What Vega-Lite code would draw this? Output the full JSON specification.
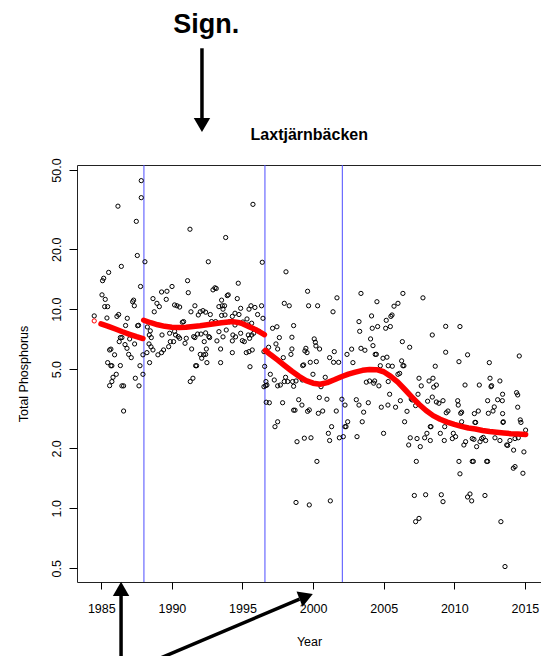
{
  "$schema": "https://vega.github.io/schema/vega-lite/v6.json",
  "width": 464,
  "height": 417,
  "autosize": {"type": "none"},
  "padding": {"left": 77, "top": 165, "right": 0, "bottom": 74},
  "background": "white",
  "config": {
    "view": {"stroke": "#222", "strokeWidth": 1},
    "font": "Liberation Sans",
    "axis": {"grid": false, "domain": false, "tickColor": "black", "labelColor": "black", "titleColor": "black", "labelFont": "Liberation Sans", "titleFont": "Liberation Sans", "labelFontSize": 12.5, "titleFontSize": 12.5, "titleFontWeight": "normal"}
  },
  "encoding": {
    "x": {"field": "x", "type": "quantitative", "scale": {"domain": [1983.28, 2016.14], "nice": false, "zero": false},
          "axis": {"title": "Year", "values": [1985, 1990, 1995, 2000, 2005, 2010, 2015], "format": "d", "tickSize": 7, "labelPadding": 23, "labelBaseline": "alphabetic", "titleBaseline": "alphabetic", "titleY": 63.5}}
  },
  "datasets": {
    "pts": [
      {"x":1984.50,"y":9.25},{"x":1987.83,"y":44.2},{"x":1987.83,"y":36.3},{"x":1986.18,"y":32.9},{"x":1987.48,"y":27.6},{"x":1987.55,"y":18.6},{"x":1988.09,"y":17.3},{"x":1986.42,"y":16.4},{"x":1985.52,"y":15.3},{"x":1985.17,"y":14.3},{"x":1985.09,"y":13.9},{"x":1987.78,"y":13.0},{"x":1985.05,"y":11.8},{"x":1985.28,"y":11.2},{"x":1985.24,"y":10.3},{"x":1985.45,"y":10.3},{"x":1987.29,"y":11.1},{"x":1987.22,"y":10.9},{"x":1987.34,"y":10.4},{"x":1989.27,"y":12.2},{"x":1989.65,"y":12.3},{"x":1990.01,"y":13.0},{"x":1989.60,"y":11.2},{"x":1988.66,"y":11.3},{"x":1988.94,"y":10.7},{"x":1989.11,"y":10.3},{"x":1988.75,"y":9.7},{"x":1985.40,"y":9.03},{"x":1986.23,"y":9.4},{"x":1986.11,"y":9.2},{"x":1986.84,"y":9.0},{"x":1986.72,"y":8.28},{"x":1987.64,"y":8.3},{"x":1987.57,"y":8.26},{"x":1988.26,"y":8.14},{"x":1988.47,"y":7.78},{"x":1988.40,"y":7.42},{"x":1988.54,"y":7.2},{"x":1989.30,"y":7.42},{"x":1989.84,"y":7.57},{"x":1990.19,"y":10.5},{"x":1990.19,"y":7.74},{"x":1986.35,"y":7.2},{"x":1986.46,"y":7.2},{"x":1987.01,"y":7.09},{"x":1987.36,"y":6.69},{"x":1986.27,"y":6.87},{"x":1986.68,"y":6.64},{"x":1986.82,"y":6.36},{"x":1988.38,"y":6.69},{"x":1988.52,"y":6.47},{"x":1988.66,"y":6.24},{"x":1989.89,"y":6.87},{"x":1989.77,"y":6.48},{"x":1989.41,"y":6.24},{"x":1989.27,"y":6.05},{"x":1989.01,"y":5.9},{"x":1988.23,"y":6.05},{"x":1987.95,"y":5.9},{"x":1985.59,"y":6.24},{"x":1985.68,"y":6.3},{"x":1985.94,"y":5.9},{"x":1986.94,"y":5.93},{"x":1987.12,"y":5.71},{"x":1985.45,"y":5.39},{"x":1985.68,"y":5.2},{"x":1985.75,"y":5.2},{"x":1986.35,"y":5.21},{"x":1988.42,"y":5.39},{"x":1987.74,"y":5.2},{"x":1986.06,"y":4.71},{"x":1985.83,"y":4.55},{"x":1987.41,"y":4.50},{"x":1987.95,"y":4.71},{"x":1985.75,"y":4.33},{"x":1985.59,"y":4.13},{"x":1986.46,"y":4.12},{"x":1986.58,"y":4.12},{"x":1987.67,"y":4.12},{"x":1986.58,"y":3.08},
      {"x":1995.74,"y":33.6},{"x":1991.28,"y":25.2},{"x":1993.81,"y":22.9},{"x":1992.58,"y":17.3},{"x":1996.40,"y":17.2},{"x":1991.11,"y":13.9},{"x":1991.16,"y":12.1},{"x":1994.70,"y":13.5},{"x":1993.05,"y":12.8},{"x":1992.91,"y":12.5},{"x":1993.14,"y":12.7},{"x":1993.99,"y":11.8},{"x":1993.92,"y":11.7},{"x":1993.52,"y":11.1},{"x":1994.63,"y":11.3},{"x":1990.36,"y":10.4},{"x":1990.55,"y":10.25},{"x":1991.63,"y":10.4},{"x":1991.35,"y":9.7},{"x":1992.01,"y":9.7},{"x":1992.20,"y":9.83},{"x":1992.39,"y":9.66},{"x":1991.87,"y":9.35},{"x":1992.72,"y":9.4},{"x":1993.33,"y":10.3},{"x":1993.57,"y":10.4},{"x":1993.73,"y":10.4},{"x":1993.62,"y":10.0},{"x":1994.87,"y":10.1},{"x":1995.60,"y":10.4},{"x":1995.88,"y":10.2},{"x":1996.35,"y":10.4},{"x":1995.46,"y":10.0},{"x":1996.07,"y":9.4},{"x":1996.45,"y":9.0},{"x":1995.32,"y":8.93},{"x":1993.52,"y":9.3},{"x":1993.76,"y":9.35},{"x":1994.28,"y":9.2},{"x":1994.47,"y":9.54},{"x":1994.75,"y":9.4},{"x":1990.83,"y":8.66},{"x":1990.74,"y":8.6},{"x":1992.81,"y":8.66},{"x":1993.10,"y":8.66},{"x":1994.09,"y":8.66},{"x":1995.03,"y":8.62},{"x":1995.65,"y":8.5},{"x":1995.41,"y":8.33},{"x":1994.47,"y":8.33},{"x":1993.85,"y":7.86},{"x":1993.33,"y":7.71},{"x":1992.39,"y":7.6},{"x":1992.06,"y":7.5},{"x":1992.62,"y":7.28},{"x":1992.67,"y":7.2},{"x":1993.62,"y":7.26},{"x":1994.32,"y":7.42},{"x":1994.51,"y":7.26},{"x":1994.87,"y":7.57},{"x":1995.41,"y":7.42},{"x":1995.65,"y":7.42},{"x":1996.17,"y":7.74},{"x":1990.26,"y":7.42},{"x":1990.45,"y":7.28},{"x":1990.55,"y":7.14},{"x":1991.02,"y":7.14},{"x":1991.54,"y":7.28},{"x":1991.63,"y":7.2},{"x":1991.82,"y":7.5},{"x":1992.29,"y":6.87},{"x":1993.19,"y":6.93},{"x":1994.28,"y":6.93},{"x":1994.99,"y":6.95},{"x":1995.13,"y":6.87},{"x":1995.50,"y":7.14},{"x":1995.79,"y":7.57},{"x":1990.12,"y":6.87},{"x":1990.93,"y":6.74},{"x":1991.40,"y":6.31},{"x":1992.01,"y":5.93},{"x":1992.25,"y":5.9},{"x":1992.44,"y":6.31},{"x":1992.39,"y":5.93},{"x":1992.11,"y":5.67},{"x":1992.48,"y":5.39},{"x":1993.45,"y":6.31},{"x":1994.28,"y":6.05},{"x":1995.27,"y":6.05},{"x":1995.46,"y":6.12},{"x":1995.69,"y":6.24},{"x":1991.68,"y":5.2},{"x":1991.75,"y":5.2},{"x":1993.45,"y":5.39},{"x":1995.53,"y":5.14},{"x":1991.49,"y":4.50},{"x":1991.30,"y":4.33},{"x":1996.52,"y":6.12},{"x":1996.57,"y":5.16},{"x":1996.52,"y":4.08},{"x":1996.64,"y":4.13},{"x":1996.68,"y":3.41},
      {"x":1998.08,"y":15.4},{"x":1999.61,"y":12.3},{"x":2001.69,"y":11.4},{"x":1997.96,"y":10.7},{"x":1998.31,"y":10.4},{"x":1999.68,"y":10.4},{"x":2000.32,"y":10.4},{"x":2001.41,"y":9.7},{"x":1997.13,"y":8.02},{"x":1997.44,"y":8.16},{"x":1998.62,"y":8.27},{"x":1997.61,"y":7.2},{"x":1998.50,"y":7.23},{"x":1997.37,"y":6.69},{"x":1997.49,"y":6.31},{"x":1996.85,"y":6.44},{"x":1997.89,"y":5.71},{"x":1998.43,"y":5.93},{"x":1998.50,"y":6.31},{"x":2000.08,"y":7.09},{"x":2000.16,"y":6.82},{"x":2000.20,"y":6.54},{"x":2000.46,"y":6.31},{"x":1999.49,"y":6.36},{"x":1999.42,"y":6.17},{"x":1999.57,"y":6.05},{"x":2001.50,"y":6.12},{"x":2001.17,"y":5.71},{"x":2001.45,"y":5.41},{"x":2001.81,"y":5.41},{"x":2002.40,"y":5.93},{"x":2002.73,"y":6.3},{"x":2002.82,"y":5.39},{"x":1999.80,"y":5.41},{"x":2000.23,"y":5.45},{"x":1999.33,"y":5.25},{"x":1999.26,"y":5.21},{"x":1999.99,"y":4.71},{"x":2000.86,"y":4.55},{"x":1999.24,"y":4.41},{"x":1996.97,"y":4.71},{"x":1997.25,"y":4.41},{"x":1996.66,"y":4.33},{"x":1996.73,"y":4.16},{"x":1997.49,"y":4.12},{"x":1997.68,"y":4.16},{"x":1997.96,"y":4.33},{"x":1998.20,"y":4.33},{"x":1998.55,"y":4.33},{"x":1998.79,"y":4.36},{"x":1998.05,"y":4.55},{"x":1998.62,"y":4.1},{"x":2000.56,"y":4.08},{"x":2000.44,"y":3.60},{"x":2000.98,"y":3.53},{"x":1998.98,"y":3.51},{"x":1999.21,"y":3.30},{"x":1998.62,"y":3.11},{"x":1998.72,"y":3.11},{"x":1999.61,"y":3.07},{"x":1999.73,"y":3.12},{"x":2000.68,"y":3.08},{"x":2000.37,"y":3.0},{"x":2001.64,"y":3.08},{"x":2002.04,"y":3.53},{"x":2002.26,"y":3.30},{"x":2002.45,"y":2.72},{"x":2002.33,"y":2.57},{"x":2002.26,"y":2.57},{"x":2001.31,"y":2.57},{"x":2001.08,"y":2.38},{"x":2001.17,"y":2.19},{"x":2001.86,"y":2.26},{"x":2002.14,"y":2.29},{"x":2003.11,"y":2.29},{"x":2003.25,"y":3.30},{"x":1997.49,"y":2.72},{"x":1997.30,"y":2.57},{"x":1998.86,"y":2.16},{"x":1999.38,"y":2.25},{"x":1999.85,"y":2.26},{"x":2000.27,"y":1.72},{"x":1998.79,"y":1.07},{"x":1999.73,"y":1.04},{"x":2001.22,"y":1.09},{"x":1996.90,"y":3.39},{"x":1997.84,"y":3.39},
      {"x":2003.39,"y":12.0},{"x":2004.52,"y":10.9},{"x":2006.36,"y":12.0},{"x":2006.01,"y":10.7},{"x":2005.73,"y":10.35},{"x":2007.78,"y":11.4},{"x":2004.14,"y":9.25},{"x":2003.25,"y":8.66},{"x":2003.30,"y":7.74},{"x":2004.19,"y":8.02},{"x":2004.57,"y":8.18},{"x":2005.18,"y":8.79},{"x":2005.51,"y":9.2},{"x":2005.59,"y":9.35},{"x":2005.14,"y":8.02},{"x":2005.47,"y":8.18},{"x":2009.39,"y":8.2},{"x":2008.44,"y":7.42},{"x":2004.07,"y":7.09},{"x":2004.24,"y":6.56},{"x":2003.39,"y":6.36},{"x":2003.67,"y":6.22},{"x":2006.32,"y":6.87},{"x":2006.84,"y":6.44},{"x":2009.39,"y":6.08},{"x":2004.40,"y":5.93},{"x":2004.48,"y":5.93},{"x":2004.95,"y":5.67},{"x":2005.23,"y":5.74},{"x":2004.76,"y":5.2},{"x":2005.32,"y":5.2},{"x":2005.61,"y":5.17},{"x":2006.27,"y":5.5},{"x":2006.36,"y":5.2},{"x":2006.43,"y":5.2},{"x":2008.65,"y":5.17},{"x":2006.01,"y":4.71},{"x":2006.13,"y":4.76},{"x":2003.77,"y":4.3},{"x":2004.00,"y":4.36},{"x":2004.36,"y":4.36},{"x":2004.29,"y":4.25},{"x":2004.66,"y":4.12},{"x":2005.32,"y":4.33},{"x":2007.50,"y":4.50},{"x":2007.66,"y":4.12},{"x":2008.21,"y":4.36},{"x":2008.49,"y":4.50},{"x":2008.73,"y":4.16},{"x":2008.54,"y":4.06},{"x":2003.06,"y":3.51},{"x":2003.58,"y":3.04},{"x":2003.48,"y":2.72},{"x":2003.91,"y":3.39},{"x":2004.83,"y":3.22},{"x":2005.30,"y":3.30},{"x":2005.42,"y":3.74},{"x":2005.84,"y":3.22},{"x":2006.18,"y":3.47},{"x":2006.65,"y":3.07},{"x":2006.48,"y":2.72},{"x":2006.95,"y":3.54},{"x":2007.02,"y":3.50},{"x":2007.43,"y":3.74},{"x":2007.26,"y":3.28},{"x":2008.11,"y":3.45},{"x":2008.44,"y":3.62},{"x":2008.73,"y":3.42},{"x":2008.91,"y":3.37},{"x":2009.20,"y":3.47},{"x":2009.43,"y":3.02},{"x":2009.55,"y":3.08},{"x":2008.30,"y":2.57},{"x":2008.35,"y":2.57},{"x":2008.06,"y":2.38},{"x":2007.90,"y":2.26},{"x":2007.36,"y":2.24},{"x":2006.88,"y":2.26},{"x":2006.77,"y":2.08},{"x":2007.59,"y":2.04},{"x":2008.30,"y":2.19},{"x":2009.01,"y":2.38},{"x":2009.29,"y":2.19},{"x":2009.32,"y":2.57},{"x":2004.99,"y":2.38},{"x":2007.31,"y":1.72},{"x":2007.17,"y":1.16},{"x":2007.97,"y":1.17},{"x":2009.08,"y":1.17},{"x":2009.20,"y":1.08},{"x":2007.26,"y":0.857},{"x":2007.50,"y":0.89},
      {"x":2010.40,"y":8.18},{"x":2010.94,"y":5.9},{"x":2010.33,"y":5.45},{"x":2012.48,"y":5.39},{"x":2014.60,"y":5.82},{"x":2012.53,"y":4.50},{"x":2012.60,"y":4.08},{"x":2012.64,"y":4.13},{"x":2013.23,"y":4.36},{"x":2010.76,"y":4.16},{"x":2011.77,"y":4.16},{"x":2013.42,"y":3.74},{"x":2013.40,"y":3.47},{"x":2013.07,"y":3.51},{"x":2014.41,"y":3.81},{"x":2014.49,"y":3.71},{"x":2014.49,"y":3.22},{"x":2012.36,"y":3.47},{"x":2012.83,"y":3.23},{"x":2012.74,"y":3.08},{"x":2012.41,"y":3.0},{"x":2010.24,"y":3.47},{"x":2010.28,"y":3.30},{"x":2010.52,"y":3.04},{"x":2010.45,"y":3.0},{"x":2011.42,"y":2.99},{"x":2011.70,"y":3.08},{"x":2013.42,"y":2.99},{"x":2014.67,"y":2.78},{"x":2014.72,"y":2.70},{"x":2015.05,"y":2.47},{"x":2010.52,"y":2.72},{"x":2011.46,"y":2.70},{"x":2011.51,"y":2.70},{"x":2013.45,"y":2.70},{"x":2013.47,"y":2.72},{"x":2009.93,"y":2.38},{"x":2010.09,"y":2.29},{"x":2009.86,"y":2.24},{"x":2010.68,"y":2.08},{"x":2010.80,"y":2.16},{"x":2011.27,"y":2.24},{"x":2011.39,"y":2.22},{"x":2011.58,"y":2.04},{"x":2011.82,"y":2.16},{"x":2011.94,"y":2.24},{"x":2012.05,"y":2.27},{"x":2012.22,"y":2.19},{"x":2012.88,"y":2.26},{"x":2013.23,"y":2.19},{"x":2013.71,"y":2.08},{"x":2013.94,"y":2.19},{"x":2013.78,"y":2.07},{"x":2014.20,"y":1.96},{"x":2014.30,"y":2.24},{"x":2014.53,"y":2.26},{"x":2014.93,"y":1.92},{"x":2010.33,"y":1.72},{"x":2011.27,"y":1.72},{"x":2011.35,"y":1.72},{"x":2012.29,"y":1.72},{"x":2012.36,"y":1.72},{"x":2010.40,"y":1.49},{"x":2014.18,"y":1.59},{"x":2014.30,"y":1.62},{"x":2014.86,"y":1.50},{"x":2010.94,"y":1.14},{"x":2011.11,"y":1.18},{"x":2011.23,"y":1.09},{"x":2012.17,"y":1.16},{"x":2013.30,"y":0.857},{"x":2013.59,"y":0.51}
    ],
    "fit": [
      {"s":"a","x":1984.98,"y":8.43},{"s":"a","x":1985.5,"y":8.2},{"s":"a","x":1986.0,"y":7.95},{"s":"a","x":1986.5,"y":7.7},{"s":"a","x":1987.0,"y":7.48},{"s":"a","x":1987.5,"y":7.28},{"s":"a","x":1987.95,"y":7.12},
      {"s":"b","x":1988.0,"y":8.8},{"s":"b","x":1988.5,"y":8.55},{"s":"b","x":1989.0,"y":8.35},{"s":"b","x":1989.5,"y":8.2},{"s":"b","x":1990.0,"y":8.12},{"s":"b","x":1990.5,"y":8.1},{"s":"b","x":1991.0,"y":8.12},{"s":"b","x":1991.5,"y":8.18},{"s":"b","x":1992.0,"y":8.25},{"s":"b","x":1992.5,"y":8.35},{"s":"b","x":1993.0,"y":8.45},{"s":"b","x":1993.5,"y":8.55},{"s":"b","x":1994.0,"y":8.63},{"s":"b","x":1994.3,"y":8.66},{"s":"b","x":1994.7,"y":8.58},{"s":"b","x":1995.0,"y":8.45},{"s":"b","x":1995.5,"y":8.15},{"s":"b","x":1996.0,"y":7.85},{"s":"b","x":1996.55,"y":7.45},
      {"s":"c","x":1996.62,"y":6.2},{"s":"c","x":1997.0,"y":5.9},{"s":"c","x":1997.5,"y":5.55},{"s":"c","x":1998.0,"y":5.2},{"s":"c","x":1998.5,"y":4.88},{"s":"c","x":1999.0,"y":4.6},{"s":"c","x":1999.5,"y":4.38},{"s":"c","x":2000.0,"y":4.25},{"s":"c","x":2000.5,"y":4.2},{"s":"c","x":2001.0,"y":4.28},{"s":"c","x":2001.5,"y":4.42},{"s":"c","x":2002.0,"y":4.58},{"s":"c","x":2002.5,"y":4.72},{"s":"c","x":2003.0,"y":4.83},{"s":"c","x":2003.5,"y":4.93},{"s":"c","x":2004.0,"y":4.98},{"s":"c","x":2004.5,"y":4.97},{"s":"c","x":2005.0,"y":4.85},{"s":"c","x":2005.5,"y":4.6},{"s":"c","x":2006.0,"y":4.3},{"s":"c","x":2006.5,"y":3.95},{"s":"c","x":2007.0,"y":3.62},{"s":"c","x":2007.5,"y":3.33},{"s":"c","x":2008.0,"y":3.1},{"s":"c","x":2008.5,"y":2.92},{"s":"c","x":2009.0,"y":2.8},{"s":"c","x":2009.5,"y":2.71},{"s":"c","x":2010.0,"y":2.64},{"s":"c","x":2010.5,"y":2.58},{"s":"c","x":2011.0,"y":2.53},{"s":"c","x":2011.5,"y":2.5},{"s":"c","x":2012.0,"y":2.46},{"s":"c","x":2012.5,"y":2.43},{"s":"c","x":2013.0,"y":2.41},{"s":"c","x":2013.5,"y":2.39},{"s":"c","x":2014.0,"y":2.37},{"s":"c","x":2014.5,"y":2.36},{"s":"c","x":2015.05,"y":2.35}
    ],
    "breaks": [{"x":1988.02},{"x":1996.59},{"x":2002.07}],
    "shafts": [
      {"x":1992.13,"y":204.2,"x2":1992.13,"y2":88.5},
      {"x":1986.40,"y":0.17,"x2":1986.40,"y2":0.38},
      {"x":1988.60,"y":0.17,"x2":1999.04,"y2":0.350}
    ],
    "heads": [
      {"x":1992.13,"y":84.1,"a":180},
      {"x":1986.40,"y":0.3936,"a":0},
      {"x":1999.51,"y":0.3608,"a":68.5}
    ],
    "notes": [
      {"x":1992.44,"y":243.8,"label":"Sign.","k":"sign"},
      {"x":1999.73,"y":70.7,"label":"Laxtjärnbäcken","k":"title"}
    ]
  },
  "layer": [
    {
      "data": {"name": "breaks"},
      "mark": {"type": "rule", "color": "#4d4dff", "strokeWidth": 1}
    },
    {
      "data": {"name": "pts"},
      "mark": {"type": "point", "shape": "circle", "filled": false, "stroke": "black", "strokeWidth": 1, "size": 18, "opacity": 1},
      "encoding": {
        "y": {"field": "y", "type": "quantitative", "scale": {"type": "log", "domain": [0.4266, 52.96], "nice": false},
              "axis": {"title": "Total Phosphorus", "values": [0.5, 1, 2, 5, 10, 20, 50], "format": ".1f", "tickSize": 8, "labelPadding": 9, "labelAngle": -90, "labelAlign": "center", "labelBaseline": "alphabetic", "titleAngle": -90, "titleBaseline": "alphabetic", "titleAlign": "center", "titleX": -50}}
      }
    },
    {
      "data": {"name": "fit"},
      "mark": {"type": "line", "color": "red", "strokeWidth": 5.5, "strokeCap": "round", "strokeJoin": "round"},
      "encoding": {
        "y": {"field": "y", "type": "quantitative", "scale": {"type": "log", "domain": [0.4266, 52.96], "nice": false},
              "axis": {"title": "Total Phosphorus", "values": [0.5, 1, 2, 5, 10, 20, 50], "format": ".1f", "tickSize": 8, "labelPadding": 9, "labelAngle": -90, "labelAlign": "center", "labelBaseline": "alphabetic", "titleAngle": -90, "titleBaseline": "alphabetic", "titleAlign": "center", "titleX": -50}},
        "detail": {"field": "s"}
      }
    },
    {
      "data": {"values": [{"x": 1984.5, "y": 8.73}]},
      "mark": {"type": "point", "shape": "circle", "filled": false, "stroke": "red", "strokeWidth": 1, "size": 18, "opacity": 1},
      "encoding": {
        "y": {"field": "y", "type": "quantitative", "scale": {"type": "log", "domain": [0.4266, 52.96], "nice": false},
              "axis": {"title": "Total Phosphorus", "values": [0.5, 1, 2, 5, 10, 20, 50], "format": ".1f", "tickSize": 8, "labelPadding": 9, "labelAngle": -90, "labelAlign": "center", "labelBaseline": "alphabetic", "titleAngle": -90, "titleBaseline": "alphabetic", "titleAlign": "center", "titleX": -50}}
      }
    },
    {
      "data": {"name": "shafts"},
      "mark": {"type": "rule", "color": "black", "strokeWidth": 3.5, "clip": false},
      "encoding": {
        "y": {"field": "y", "type": "quantitative", "scale": {"type": "log", "domain": [0.4266, 52.96], "nice": false},
              "axis": {"title": "Total Phosphorus", "values": [0.5, 1, 2, 5, 10, 20, 50], "format": ".1f", "tickSize": 8, "labelPadding": 9, "labelAngle": -90, "labelAlign": "center", "labelBaseline": "alphabetic", "titleAngle": -90, "titleBaseline": "alphabetic", "titleAlign": "center", "titleX": -50}},
        "x2": {"field": "x2"},
        "y2": {"field": "y2"}
      }
    },
    {
      "data": {"name": "heads"},
      "mark": {"type": "point", "shape": "triangle-up", "filled": true, "color": "black", "size": 270, "opacity": 1, "clip": false},
      "encoding": {
        "y": {"field": "y", "type": "quantitative", "scale": {"type": "log", "domain": [0.4266, 52.96], "nice": false},
              "axis": {"title": "Total Phosphorus", "values": [0.5, 1, 2, 5, 10, 20, 50], "format": ".1f", "tickSize": 8, "labelPadding": 9, "labelAngle": -90, "labelAlign": "center", "labelBaseline": "alphabetic", "titleAngle": -90, "titleBaseline": "alphabetic", "titleAlign": "center", "titleX": -50}},
        "angle": {"field": "a", "type": "quantitative", "scale": null}
      }
    },
    {
      "data": {"name": "notes"},
      "mark": {"type": "text", "font": "Liberation Sans", "fontWeight": "bold", "color": "black", "align": "center", "baseline": "alphabetic", "clip": false},
      "encoding": {
        "y": {"field": "y", "type": "quantitative", "scale": {"type": "log", "domain": [0.4266, 52.96], "nice": false},
              "axis": {"title": "Total Phosphorus", "values": [0.5, 1, 2, 5, 10, 20, 50], "format": ".1f", "tickSize": 8, "labelPadding": 9, "labelAngle": -90, "labelAlign": "center", "labelBaseline": "alphabetic", "titleAngle": -90, "titleBaseline": "alphabetic", "titleAlign": "center", "titleX": -50}},
        "text": {"field": "label"},
        "size": {"field": "k", "type": "nominal", "scale": {"domain": ["sign", "title"], "range": [27, 16]}, "legend": null}
      }
    }
  ]
}
